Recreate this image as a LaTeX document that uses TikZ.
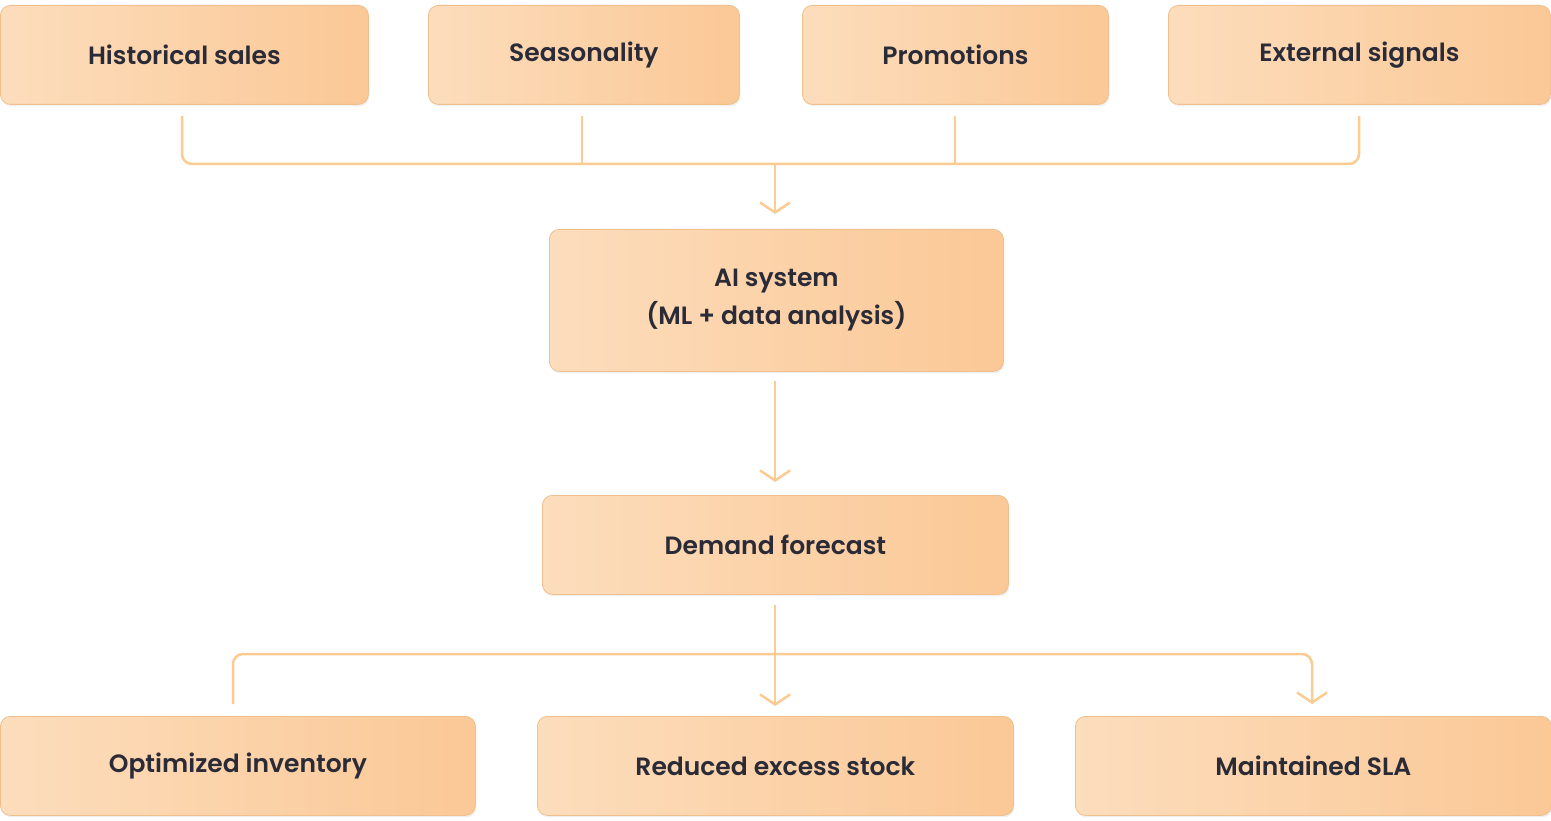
\documentclass[tikz,border=0pt]{standalone}
\usepackage{fontspec}
\setmainfont{Poppins}[UprightFont=* SemiBold]
\usetikzlibrary{arrows.meta,shadows}
\definecolor{boxL}{HTML}{FCDDBC}
\definecolor{boxR}{HTML}{FBC896}
\definecolor{edge}{HTML}{EFC08E}
\definecolor{ln}{HTML}{FBCB92}
\definecolor{txt}{HTML}{2B2B38}
\begin{document}
\begin{tikzpicture}[x=1pt,y=-1pt,
  box/.style={draw=edge,line width=0.8pt,rounded corners=10pt,left color=boxL,right color=boxR,
    text=txt,font=\fontsize{25}{38}\selectfont,align=center,inner sep=0pt,anchor=north west,
    drop shadow={opacity=0.12,shadow xshift=1pt,shadow yshift=-2pt}},
  con/.style={draw=ln,line width=2.5pt,rounded corners=10pt},
  arr/.style={con,-{Straight Barb[length=10pt,width=30pt,line width=2.5pt]}}]
\useasboundingbox (0,0) rectangle (1551,821);
\node[box,minimum width=368,minimum height=99] (hs) at (0,5) {Historical sales};
\node[box,minimum width=311,minimum height=99] (se) at (428,5) {Seasonality};
\node[box,minimum width=306,minimum height=99] (pr) at (802,5) {Promotions};
\node[box,minimum width=382,minimum height=99] (ex) at (1168,5) {External signals};
\node[box,minimum width=454,minimum height=142] (ai) at (549,229) {AI system\\(ML + data analysis)};
\node[box,minimum width=466,minimum height=99] (df) at (542,495) {Demand forecast};
\node[box,minimum width=475,minimum height=99] (oi) at (0,716) {Optimized inventory};
\node[box,minimum width=476,minimum height=99] (re) at (537,716) {Reduced excess stock};
\node[box,minimum width=476,minimum height=99] (ms) at (1075,716) {Maintained SLA};
\coordinate (m) at (775,164);
\coordinate (b) at (775,654);
\draw[con] (182,116) -- (182,164) -- (1359,164) -- (1359,116);
\draw[con] (582,116) -- (582,164);
\draw[con] (955,116) -- (955,164);
\draw[arr] (m) -- (775,214);
\draw[arr] (775,381) -- (775,482);
\draw[arr] (775,605) -- (775,706);
\draw[arr] (233,704) -- (233,654) -- (1312,654) -- (1312,704);
\end{tikzpicture}
\end{document}
